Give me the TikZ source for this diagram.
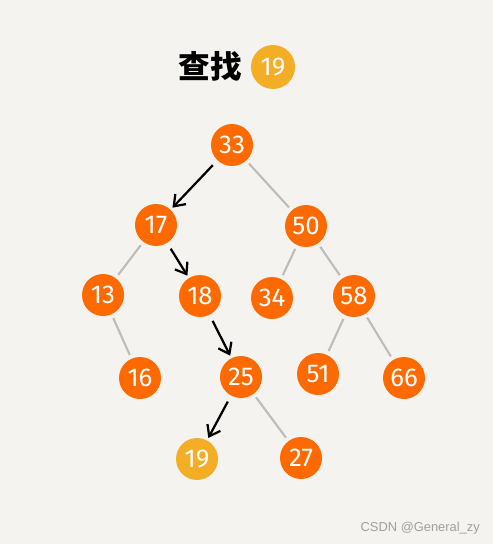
\documentclass[tikz,border=0pt]{standalone}
\usepackage{fontspec}
\setmainfont{Fira Sans}
\newfontfamily\cjkfont{Noto Sans CJK SC}
\newfontfamily\markfont{Liberation Sans}
\usetikzlibrary{arrows.meta}

\definecolor{paper}{HTML}{F5F3EF}
\definecolor{hotorange}{HTML}{FF6A00}
\definecolor{goldfound}{HTML}{F4AE26}
\definecolor{edgegray}{HTML}{BDBDB8}

\tikzset{
  keynode/.style={circle, fill=hotorange, text=white, minimum size=1.26cm,
    inner sep=0pt, font=\fontsize{22}{22}\selectfont},
  foundnode/.style={keynode, fill=goldfound},
  treeedge/.style={draw=edgegray, line width=1.8pt, shorten <=0.12cm, shorten >=0.12cm},
  searchstep/.style={draw=black, line width=1.9pt, shorten <=0.2cm, shorten >=0.08cm,
    -{Straight Barb[length=0.3cm,width=0.44cm,line width=1.9pt]}}
}

\begin{document}
\begin{tikzpicture}[x=0.03cm,y=-0.03cm]

\def\width{493}
\def\height{544}

\path [use as bounding box, fill=paper] (0,0) rectangle (\width,\height);

% TITLE
\node (title) at (210,66) {\cjkfont\bfseries\fontsize{27}{27}\selectfont 查找};
\node [foundnode, minimum size=1.32cm] (target) at (273,67) {19};

% KEYS
\node [keynode] (k33) at (232,145) {33};
\node [keynode] (k17) at (156,225) {17};
\node [keynode] (k50) at (306,226) {50};
\node [keynode] (k13) at (103,295) {13};
\node [keynode] (k18) at (200,296) {18};
\node [keynode] (k34) at (272,298) {34};
\node [keynode] (k58) at (354,296) {58};
\node [keynode] (k16) at (140,378) {16};
\node [keynode] (k25) at (241,377) {25};
\node [keynode] (k51) at (318,374) {51};
\node [keynode] (k66) at (404,378) {66};
\node [foundnode] (k19) at (197,459) {19};
\node [keynode] (k27) at (301,458) {27};

% EDGES
\foreach \a/\b in {k33/k50, k17/k13, k13/k16, k50/k34, k50/k58,
                   k58/k51, k58/k66, k25/k27}
  \draw [treeedge] (\a) -- (\b);

% SEARCH PATH
\foreach \a/\b in {k33/k17, k17/k18, k18/k25, k25/k19}
  \draw [searchstep] (\a) -- (\b);

% WATERMARK
\node [anchor=east, inner sep=0pt, text=gray!75, font=\markfont\fontsize{11}{11}\selectfont] (mark) at (480,528) {CSDN @General\_zy};

\end{tikzpicture}
\end{document}
